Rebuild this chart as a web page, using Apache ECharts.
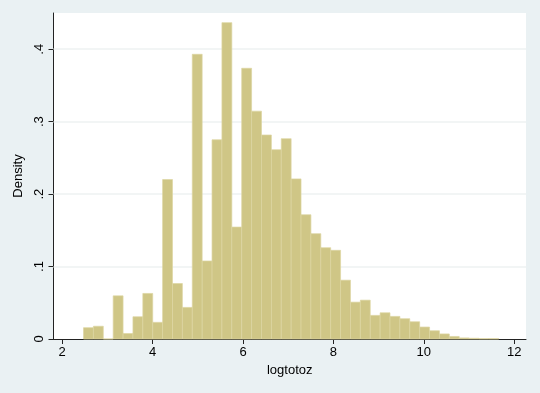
<!DOCTYPE html>
<html>
<head>
<meta charset="utf-8">
<script src="https://cdn.jsdelivr.net/npm/echarts@6/dist/echarts.min.js"></script>
<style>
html,body{margin:0;padding:0;background:#eaf1f3;}
#chart{width:540px;height:393px;}
</style>
</head>
<body>
<div id="chart"></div>
<script>
// Histogram bins (Stata-style): first bin start and bin width on logtotoz
const binStart = 2.472;
const binWidth = 0.2187;
// Density for each bin
const densities = [
  0.0156, 0.0176, 0, 0.0596, 0.0076, 0.0307, 0.0629, 0.0230, 0.2201, 0.0766,
  0.0436, 0.3930, 0.1077, 0.2750, 0.4367, 0.1545, 0.3737, 0.3145, 0.2816, 0.2613,
  0.2765, 0.2210, 0.1715, 0.1454, 0.1260, 0.1224, 0.0812, 0.0509, 0.0536, 0.0326,
  0.0362, 0.0312, 0.0280, 0.0238, 0.0165, 0.0114, 0.0070, 0.0035, 0.0015, 0.0010,
  0.0005, 0.0005
];
const xTicks = [2, 4, 6, 8, 10, 12];
const yTicks = [0, 0.1, 0.2, 0.3, 0.4];
const yGrid = [0.1, 0.2, 0.3, 0.4];
const xName = 'logtotoz';
const yName = 'Density';

const barData = densities.map((d, i) => [binStart + i * binWidth, binStart + (i + 1) * binWidth, d]);

const font = '"Liberation Sans", Arial, Helvetica, sans-serif';
const chart = echarts.init(document.getElementById('chart'), null, {renderer: 'canvas'});
chart.setOption({
  backgroundColor: '#eaf1f3',
  animation: false,
  grid: {left: 53.5, right: 14, top: 13, bottom: 54, show: true, backgroundColor: '#ffffff', borderWidth: 0},
  xAxis: {
    type: 'value', min: 1.808, max: 12.26,
    name: xName, nameLocation: 'middle', nameGap: 24,
    nameTextStyle: {fontFamily: font, fontSize: 13, color: '#000'},
    axisLine: {show: true, onZero: false, lineStyle: {color: '#222', width: 1}},
    axisTick: {show: true, length: 5, customValues: xTicks, lineStyle: {color: '#222'}},
    axisLabel: {customValues: xTicks, fontFamily: font, fontSize: 13, color: '#000', margin: 7},
    splitLine: {show: false}
  },
  yAxis: {
    type: 'value', min: 0, max: 0.45,
    name: yName, nameLocation: 'middle', nameGap: 23,
    nameTextStyle: {fontFamily: font, fontSize: 13, color: '#000'},
    axisLine: {show: true, lineStyle: {color: '#222', width: 1}},
    axisTick: {show: true, length: 5, customValues: yTicks, lineStyle: {color: '#222'}},
    axisLabel: {customValues: yTicks, rotate: 90, fontFamily: font, fontSize: 13, color: '#000', margin: 8,
      formatter: v => v === 0 ? '0' : String(v).replace(/^0/, '')},
    splitLine: {show: false}
  },
  series: [
    {
      type: 'line', data: [], z: 1, silent: true,
      markLine: {
        z: 1,
        silent: true, symbol: 'none', label: {show: false},
        lineStyle: {color: '#eef2f2', width: 1.5, type: 'solid'},
        data: yGrid.map(v => ({yAxis: v}))
      }
    },
    {
      type: 'custom', z: 10,
      data: barData,
      encode: {x: [0, 1], y: 2},
      renderItem: function (params, api) {
        const p0 = api.coord([api.value(0), api.value(2)]);
        const p1 = api.coord([api.value(1), 0]);
        return {
          type: 'rect',
          shape: {x: p0[0], y: p0[1], width: p1[0] - p0[0], height: p1[1] - p0[1]},
          style: {fill: '#cfc686', stroke: '#ddd6a2', lineWidth: 0.7}
        };
      }
    }
  ]
});
</script>
</body>
</html>
